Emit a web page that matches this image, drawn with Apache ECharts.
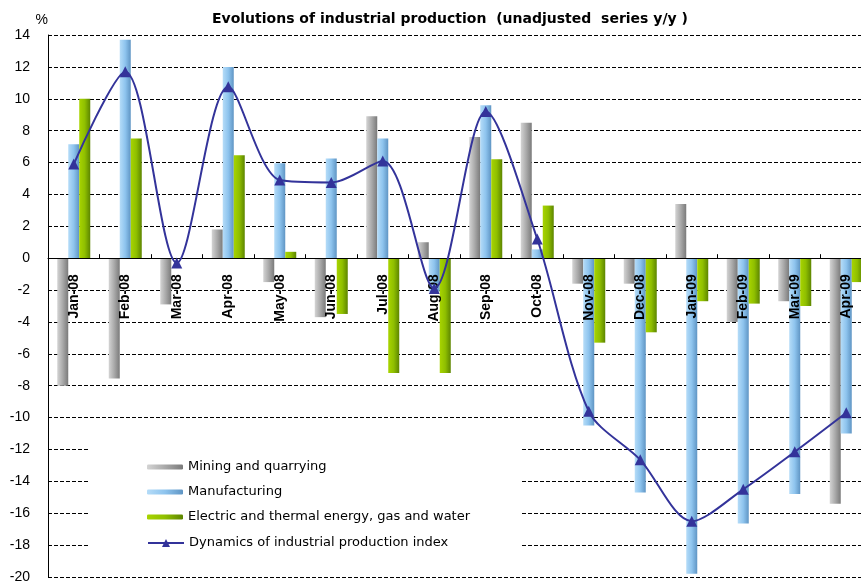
<!DOCTYPE html>
<html>
<head>
<meta charset="utf-8">
<script src="https://cdn.jsdelivr.net/npm/echarts@6/dist/echarts.min.js"></script>
<style>html,body{margin:0;padding:0;background:#fff}#c{width:861px;height:582px}</style>
</head>
<body>
<div id="c"></div>
<script>
const categories = ['Jan-08','Feb-08','Mar-08','Apr-08','May-08','Jun-08','Jul-08','Aug-08','Sep-08','Oct-08','Nov-08','Dec-08','Jan-09','Feb-09','Mar-09','Apr-09'];
const mining = [-8.0, -7.55, -2.9, 1.8, -1.5, -3.7, 8.9, 1.0, 7.6, 8.5, -1.6, -1.6, 3.4, -4.0, -2.7, -15.4];
const manufacturing = [7.15, 13.7, 0, 12.0, 5.95, 6.25, 7.5, -2.1, 9.6, 0.55, -10.5, -14.7, -19.8, -16.65, -14.8, -11.0];
const electric = [10.0, 7.5, 0, 6.45, 0.4, -3.5, -7.2, -7.2, 6.2, 3.3, -5.3, -4.65, -2.7, -2.85, -3.0, -1.5];
const dynamics = [5.9, 11.7, -0.3, 10.75, 4.9, 4.75, 6.1, -1.9, 9.2, 1.2, -9.6, -12.65, -16.5, -14.5, -12.15, -9.7];
const yTicks = {min: -20, max: 14, interval: 2};
const names = ['Mining and quarrying','Manufacturing','Electric and thermal energy, gas and water','Dynamics of industrial production index'];

function grad(a, b, c) {
  return new echarts.graphic.LinearGradient(0, 0, 1, 0, [
    {offset: 0, color: a}, {offset: 0.5, color: b}, {offset: 1, color: c}
  ]);
}
const greyG = grad('#d4d4d4', '#a9a9a9', '#7a7a7a');
const blueG = grad('#b5dcf8', '#8ec4ee', '#5f95c4');
const greenG = grad('#a8d400', '#8fbf00', '#5d8500');

const gridTop = 35, gridBottom = 577;
// pixel offset that moves the category axis from the grid bottom up to the value 0
const zeroOffset = -(gridBottom - gridTop) * (0 - yTicks.min) / (yTicks.max - yTicks.min);

const chart = echarts.init(document.getElementById('c'), null, {renderer: 'canvas'});
const barBase = {type: 'bar', barWidth: 11, barGap: '0%', z: 2};
chart.setOption({
  animation: false,
  backgroundColor: '#fff',
  title: {
    text: 'Evolutions of industrial production  (unadjusted  series y/y )',
    left: 207, top: 7,
    textStyle: {fontFamily: 'DejaVu Sans', fontWeight: 'bold', fontSize: 14, color: '#000'}
  },
  graphic: [{
    type: 'rect', z: 1,
    shape: {x: 88, y: 428, width: 434, height: 134},
    style: {fill: '#fff'}
  }],
  legend: [{
    orient: 'vertical', left: 142, top: 455,
    itemWidth: 36, itemHeight: 5, itemGap: 11,
    textStyle: {fontFamily: 'DejaVu Sans', fontSize: 13, color: '#000', lineHeight: 14},
    data: [names[0], names[1], names[2]]
  }, {
    orient: 'vertical', left: 142, top: 531,
    itemWidth: 36, itemHeight: 10, itemGap: 11,
    textStyle: {fontFamily: 'DejaVu Sans', fontSize: 13, color: '#000', lineHeight: 14},
    data: [names[3]]
  }],
  grid: {left: 48, top: gridTop, width: 824, height: gridBottom - gridTop, containLabel: false, outerBoundsMode: 'none'},
  xAxis: {
    type: 'category', data: categories, z: 3, position: 'bottom', offset: zeroOffset,
    axisLine: {onZero: false, lineStyle: {color: '#000', width: 1}},
    axisTick: {show: true, inside: true, length: 4, lineStyle: {color: '#000'}},
    axisLabel: {rotate: 90, margin: 16, fontFamily: 'Liberation Sans', fontWeight: 'bold', fontSize: 14, color: '#000'},
    splitLine: {show: false}
  },
  yAxis: {
    type: 'value', min: yTicks.min, max: yTicks.max, interval: yTicks.interval,
    name: '%', nameLocation: 'end', nameGap: 8,
    nameTextStyle: {fontFamily: 'Liberation Sans', fontSize: 14, color: '#000', align: 'right'},
    axisLine: {show: true, lineStyle: {color: '#000', width: 1}},
    axisTick: {show: false},
    axisLabel: {margin: 18, fontFamily: 'Liberation Sans', fontSize: 14, color: '#000'},
    splitLine: {show: true, lineStyle: {color: '#000', type: [4, 2], width: 1}}
  },
  series: [
    Object.assign({}, barBase, {name: names[0], data: mining, itemStyle: {color: greyG}}),
    Object.assign({}, barBase, {name: names[1], data: manufacturing, itemStyle: {color: blueG}}),
    Object.assign({}, barBase, {name: names[2], data: electric, itemStyle: {color: greenG}}),
    {
      name: names[3], type: 'line', data: dynamics, z: 5,
      smooth: 0.3,
      symbol: 'triangle', symbolSize: 11,
      lineStyle: {color: '#33339a', width: 2},
      itemStyle: {color: '#33339a'}
    }
  ]
});
</script>
</body>
</html>
